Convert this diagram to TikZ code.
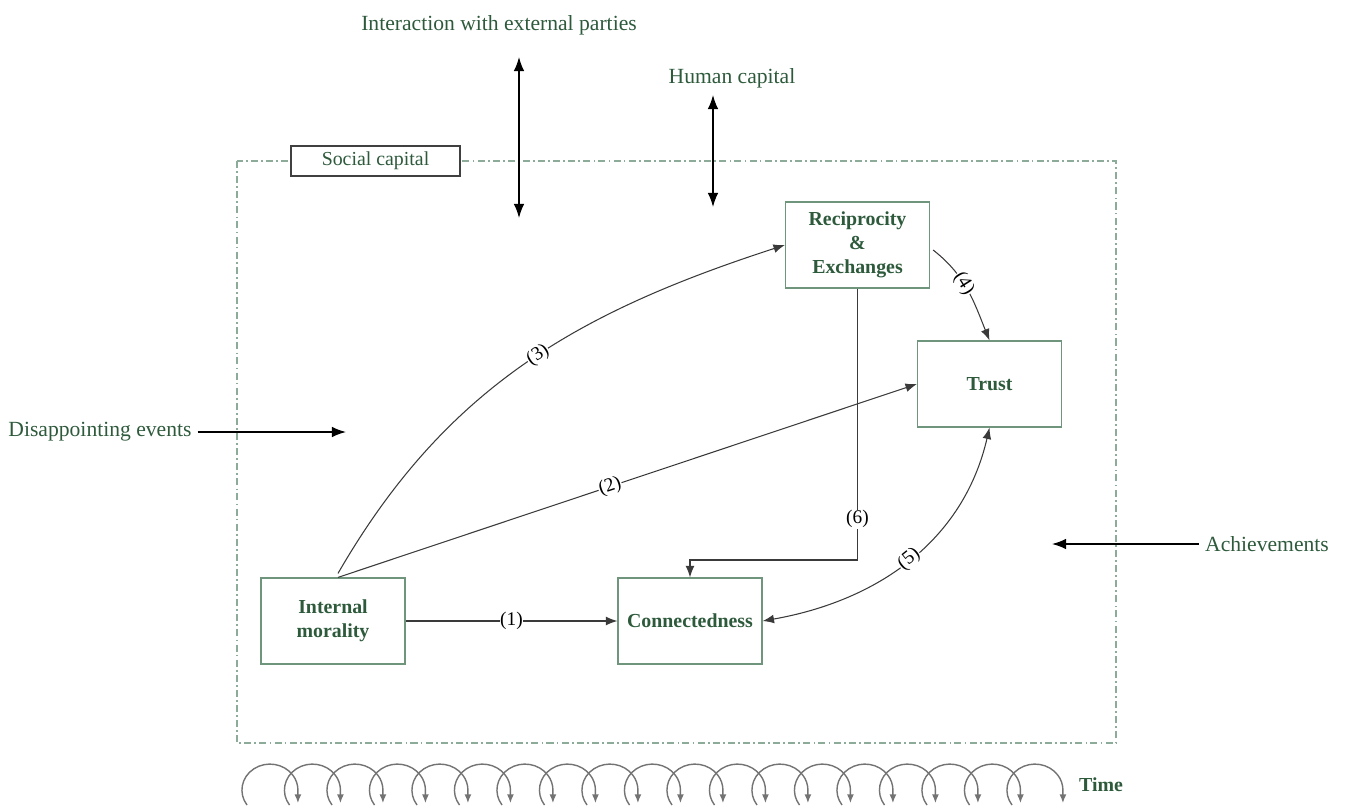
\documentclass[tikz,border=0pt]{standalone}
\usepackage{fontspec}
\setmainfont{Liberation Serif}
\usetikzlibrary{arrows.meta,calc}
\definecolor{textgreen}{HTML}{2E5A3C}
\definecolor{boxgreen}{HTML}{6F957C}
\definecolor{dashgreen}{HTML}{8DAB99}
\definecolor{edgegray}{HTML}{3A3A3A}
\tikzset{
	box/.style={
			draw=boxgreen, line width=0.7pt, fill=white, align=center,
			text=textgreen, font=\fontsize{11.3}{13.5}\selectfont\bfseries,
			minimum width=2.88cm, minimum height=1.72cm},
	outer/.style={text=textgreen, font=\fontsize{12.3}{14}\selectfont},
	tip/.style={-{Latex[length=6.5pt,width=5pt]}},
	link/.style={draw=edgegray, line width=0.6pt, tip},
	tag/.style={fill=white, inner sep=0.4pt, font=\fontsize{11}{13}\selectfont, text=black},
	border/.style={draw=dashgreen, line width=0.7pt, dash pattern=on 4pt off 1.8pt on 1pt off 1.8pt},
	push/.style={line width=0.8pt, -{Latex[length=8pt,width=6pt]}},
	timeloop/.style={draw=black!55, line width=0.8pt, -{Latex[length=5pt,width=4pt]}}
}

\begin{document}
\begin{tikzpicture}[x=0.02cm, y=-0.02cm]
	\useasboundingbox (0,0) rectangle (1349,808);

	% Social capital frame
	\draw[border] (237,161) rectangle (1116,743);
	\node (sc) at (375.5,161) [draw=black!75, line width=0.7pt, fill=white, text=textgreen,
		font=\fontsize{11.3}{13}\selectfont, minimum width=3.38cm, minimum height=0.6cm] {Social capital};

	% The four dimensions
	\node (rec) at (857.5,245) [box] {Reciprocity\\\&\\Exchanges};
	\node (trust) at (989.5,384) [box] {Trust};
	\node (im) at (333,621) [box] {Internal\\morality};
	\node (conn) at (690,621) [box] {Connectedness};

	% Outside influences
	\node (ext) at (499,25) [outer] {Interaction with external parties};
	\node (hum) at (732,78) [outer] {Human capital};
	\node (dis) at (100,432) [outer] {Disappointing events};
	\node (ach) at (1267,544) [outer] {Achievements};
	\coordinate (ext1) at (519,57);
	\coordinate (ext2) at (519,218);
	\coordinate (hum1) at (713,95);
	\coordinate (hum2) at (713,207);
	\coordinate (disend) at (346,432);
	\coordinate (achend) at (1052,544);
	\draw[push, {Latex[length=8pt,width=6pt]}-{Latex[length=8pt,width=6pt]}] (ext1) -- (ext2);
	\draw[push, {Latex[length=8pt,width=6pt]}-{Latex[length=8pt,width=6pt]}] (hum1) -- (hum2);
	\draw[push] (dis.east) -- (disend);
	\draw[push] (ach.west) -- (achend);

	% Links between the dimensions
	\draw[link] (im.east) -- node[tag, pos=0.5] {(1)} (conn.west);
	\draw[link] ([xshift=0.1cm]im.north) -- node[tag, sloped, pos=0.47] {(2)} (trust.west);
	\draw[link] ([xshift=0.1cm, yshift=0.08cm]im.north) to[out=60,in=198]
		node[tag, sloped, pos=0.53] {(3)} (rec.west);
	\draw[link] ([shift={(3,5)}]rec.east) to[out=-38,in=112]
		node[tag, sloped, pos=0.42] {(4)} (trust.north);
	\draw[link, {Latex[length=6.5pt,width=5pt]}-{Latex[length=6.5pt,width=5pt]}]
		(conn.east) to[out=10,in=-103] node[tag, sloped, pos=0.5] {(5)} (trust.south);
	\coordinate (bend) at (857.5,560);
	\draw[link] (rec.south) -- node[tag, pos=0.85] {(6)} (bend) -| (conn.north);

	% Time
	\foreach \i in {0,...,18}
		\draw[timeloop] ({247+42.5*\i},805) arc[start angle=215, end angle=0, x radius=0.56cm, y radius=0.52cm] -- ++(0,13);
	\node (time) at (1101,785) [text=textgreen, font=\fontsize{11.3}{13}\selectfont\bfseries] {Time};
\end{tikzpicture}
\end{document}
